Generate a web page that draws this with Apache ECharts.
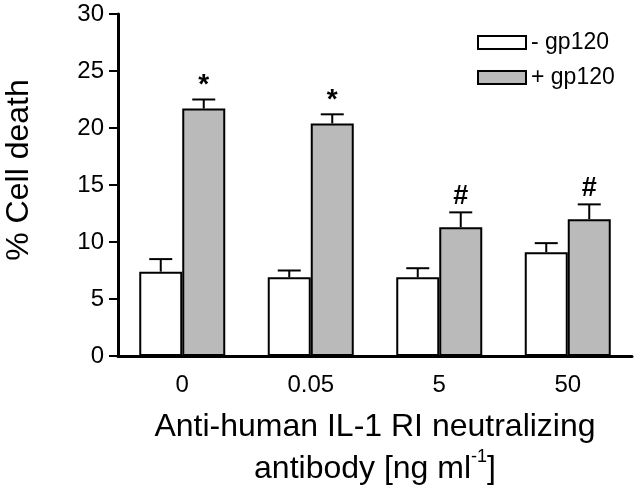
<!DOCTYPE html>
<html>
<head>
<meta charset="utf-8">
<script src="https://cdn.jsdelivr.net/npm/echarts@6/dist/echarts.min.js"></script>
<style>
html, body { margin: 0; padding: 0; background: #fff; }
#chart { width: 640px; height: 486px; }
</style>
</head>
<body>
<div id="chart"></div>
<script>
// data
var doses = ['0', '0.05', '5', '50'];
var minusGp120 = [7.4, 6.9, 6.9, 9.1];
var minusGp120Err = [1.1, 0.6, 0.8, 0.8];
var plusGp120 = [21.7, 20.4, 11.3, 12.0];
var plusGp120Err = [0.8, 0.8, 1.3, 1.3];
var plusMarks = ['*', '*', '#', '#'];
var yTicks = [0, 5, 10, 15, 20, 25, 30];

var FONT = 'Arial, "Liberation Sans", sans-serif';
var BAR_W = 43;
var CAP_W = 23;

// error bars (upper half only) + significance marks
function errorBars(name, values, errs, side, marks) {
	return {
		name: name + ' err',
		type: 'custom',
		z: 3,
		silent: true,
		data: values.map(function (v, i) { return [i, v, v + errs[i]]; }),
		encode: { x: 0, y: [1, 2] },
		renderItem: function (params, api) {
			var base = api.coord([api.value(0), api.value(1)]);
			var top = api.coord([api.value(0), api.value(2)]);
			var x = base[0] + side * BAR_W / 2;
			var kids = [
				{ type: 'line', shape: { x1: x, y1: base[1], x2: x, y2: top[1] }, style: { stroke: '#000', lineWidth: 2 } },
				{ type: 'line', shape: { x1: x - CAP_W / 2, y1: top[1], x2: x + CAP_W / 2, y2: top[1] }, style: { stroke: '#000', lineWidth: 2 } }
			];
			if (marks) {
				var m = marks[params.dataIndex];
				kids.push({
					type: 'text', x: x, y: top[1] - (m === '*' ? 0 : 2),
					style: { text: m, font: 'bold ' + (m === '*' ? 28 : 27) + 'px ' + FONT, fill: '#000', textAlign: 'center', textVerticalAlign: 'bottom' }
				});
			}
			return { type: 'group', children: kids };
		}
	};
}

var chart = echarts.init(document.getElementById('chart'));
var option = {
	animation: false,
	backgroundColor: '#fff',
	textStyle: { fontFamily: FONT, color: '#000' },
	grid: { left: 118, right: 8, top: 14, bottom: 130, outerBoundsMode: 'none', containLabel: false },
	legend: {
		data: ['- gp120', '+ gp120'],
		orient: 'vertical',
		left: 477,
		top: 31,
		padding: 0,
		itemWidth: 48,
		itemHeight: 13,
		itemGap: 12,
		icon: 'rect',
		textStyle: { fontSize: 23, color: '#000', fontFamily: FONT }
	},
	xAxis: {
		type: 'category',
		data: doses,
		axisLine: { lineStyle: { color: '#000', width: 3 } },
		axisTick: { show: false },
		axisLabel: { fontSize: 24, color: '#000', margin: 17 },
		name: 'Anti-human IL-1 RI neutralizing\nantibody [ng ml{sup|-1}]',
		nameLocation: 'middle',
		nameGap: 50,
		nameTextStyle: {
			fontSize: 32, lineHeight: 42, color: '#000',
			rich: { sup: { fontSize: 18, verticalAlign: 'top', lineHeight: 30, color: '#000' } }
		}
	},
	yAxis: {
		type: 'value',
		min: yTicks[0],
		max: yTicks[yTicks.length - 1],
		interval: 5,
		splitLine: { show: false },
		axisLine: { show: true, lineStyle: { color: '#000', width: 3 } },
		axisTick: { show: true, length: 9, lineStyle: { color: '#000', width: 2 } },
		axisLabel: { fontSize: 24, color: '#000', margin: 14 }
	},
	graphic: [{
		type: 'text',
		x: 19, y: 170,
		rotation: Math.PI / 2,
		style: { text: '% Cell death', font: '32px ' + FONT, fill: '#000', textAlign: 'center', textVerticalAlign: 'middle' }
	}],
	series: [
		{
			name: '- gp120', type: 'bar', data: minusGp120,
			barWidth: BAR_W, barGap: '0%',
			itemStyle: { color: '#fff', borderColor: '#000', borderWidth: 2 }
		},
		{
			name: '+ gp120', type: 'bar', data: plusGp120,
			barWidth: BAR_W, barGap: '0%',
			itemStyle: { color: '#bababa', borderColor: '#000', borderWidth: 2 }
		},
		errorBars('- gp120', minusGp120, minusGp120Err, -1, null),
		errorBars('+ gp120', plusGp120, plusGp120Err, 1, plusMarks)
	]
};
chart.setOption(option);
</script>
</body>
</html>
